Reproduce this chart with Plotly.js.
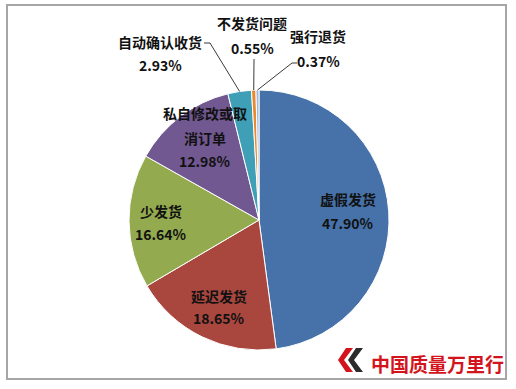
<!DOCTYPE html>
<html>
<head>
<meta charset="utf-8">
<script src="https://cdn.plot.ly/plotly-3.0.1.min.js"></script>
<style>html,body{margin:0;padding:0;background:#fff;}#chart{width:516px;height:389px;}</style>
</head>
<body>
<div id="chart"></div>
<script>
// ---- data ----
const categories = ['虚假发货', '延迟发货', '少发货', '私自修改或取消订单', '自动确认收货', '不发货问题', '强行退货'];
const values = [47.90, 18.65, 16.64, 12.98, 2.93, 0.55, 0.37];
const labelLines = [['虚假发货'], ['延迟发货'], ['少发货'], ['私自修改或取', '消订单'], ['自动确认收货'], ['不发货问题'], ['强行退货']];
const colors = ['#4672A9', '#A9473F', '#93AA4F', '#715891', '#3E9FB6', '#E98A30', '#A2B8DA'];
const logoText = '中国质量万里行';

// ---- layout helpers (pixels -> paper) ----
const W = 516, H = 389;
const fx = x => x / W;
const fy = y => 1 - y / H;
const cx = 259, cy = 220, R = 130;

// label placement (pixel centres of each text line) and leader-line elbows
const labelPos = [
  {x: 348, y: [199, 223]},
  {x: 219, y: [296, 318]},
  {x: 161, y: [211, 234]},
  {x: 205, y: [113, 138, 161]},
  {x: 160, y: [42, 65]},
  {x: 252, y: [23, 48]},
  {x: 318, y: [36, 61]}
];
const leaders = {4: [[204, 43], [210, 43]], 5: [[254, 59]], 6: [[297, 63], [292, 63]]};

const font = {family: '"Noto Sans CJK SC", "Open Sans", sans-serif', size: 14, color: '#111111'};

const annotations = [];
categories.forEach((c, i) => {
  const lines = labelLines[i].concat([values[i].toFixed(2) + '%']);
  lines.forEach((t, j) => {
    annotations.push({
      xref: 'paper', yref: 'paper', x: fx(labelPos[i].x), y: fy(labelPos[i].y[j]),
      xanchor: 'center', yanchor: 'middle', showarrow: false,
      text: '<b>' + t + '</b>', font: font
    });
  });
});
annotations.push({
  xref: 'paper', yref: 'paper', x: fx(437), y: fy(363), xanchor: 'center', yanchor: 'middle',
  showarrow: false, text: '<b>' + logoText + '</b>',
  font: {family: '"Noto Sans CJK SC", sans-serif', size: 19, color: '#D4141C'}
});

// leader lines: from elbow to the pie edge at the slice mid-angle
const total = values.reduce((a, b) => a + b, 0);
const shapes = [];
let cum = 0;
values.forEach((v, i) => {
  const mid = (cum + v / 2) / total * 2 * Math.PI;
  cum += v;
  if (leaders[i]) {
    const ex = cx + R * Math.sin(mid), ey = cy - R * Math.cos(mid);
    const pts = leaders[i].concat([[ex, ey]]);
    const path = pts.map((p, k) => (k ? 'L ' : 'M ') + fx(p[0]) + ' ' + fy(p[1])).join(' ');
    shapes.push({type: 'path', xref: 'paper', yref: 'paper', path: path, line: {color: '#3a3a3a', width: 1}});
  }
});
// frame
shapes.push({type: 'rect', xref: 'paper', yref: 'paper', x0: fx(7), y0: fy(5), x1: fx(506), y1: fy(379),
  line: {color: '#A6A6A6', width: 2}});
// logo chevrons
const chev = (pts, col) => ({type: 'path', xref: 'paper', yref: 'paper', fillcolor: col, line: {width: 0},
  path: pts.map((p, k) => (k ? 'L ' : 'M ') + fx(p[0]) + ' ' + fy(p[1])).join(' ') + ' Z'});
shapes.push(chev([[346, 348], [353, 348], [344, 360], [353, 372], [346, 372], [338, 360]], '#D4141C'));
shapes.push(chev([[356, 348], [363, 348], [354, 360], [363, 372], [356, 372], [348, 360]], '#2B2B2B'));

const trace = {
  type: 'pie', labels: categories, values: values, sort: false, direction: 'clockwise', rotation: 0,
  marker: {colors: colors, line: {color: '#ffffff', width: 1}},
  textinfo: 'none', hoverinfo: 'label+percent', showlegend: false,
  domain: {x: [fx(cx - R), fx(cx + R)], y: [fy(cy + R), fy(cy - R)]}
};

Plotly.newPlot('chart', [trace], {
  width: W, height: H, margin: {l: 0, r: 0, t: 0, b: 0},
  paper_bgcolor: '#ffffff', showlegend: false,
  annotations: annotations, shapes: shapes
}, {displayModeBar: false, staticPlot: true});
</script>
</body>
</html>
